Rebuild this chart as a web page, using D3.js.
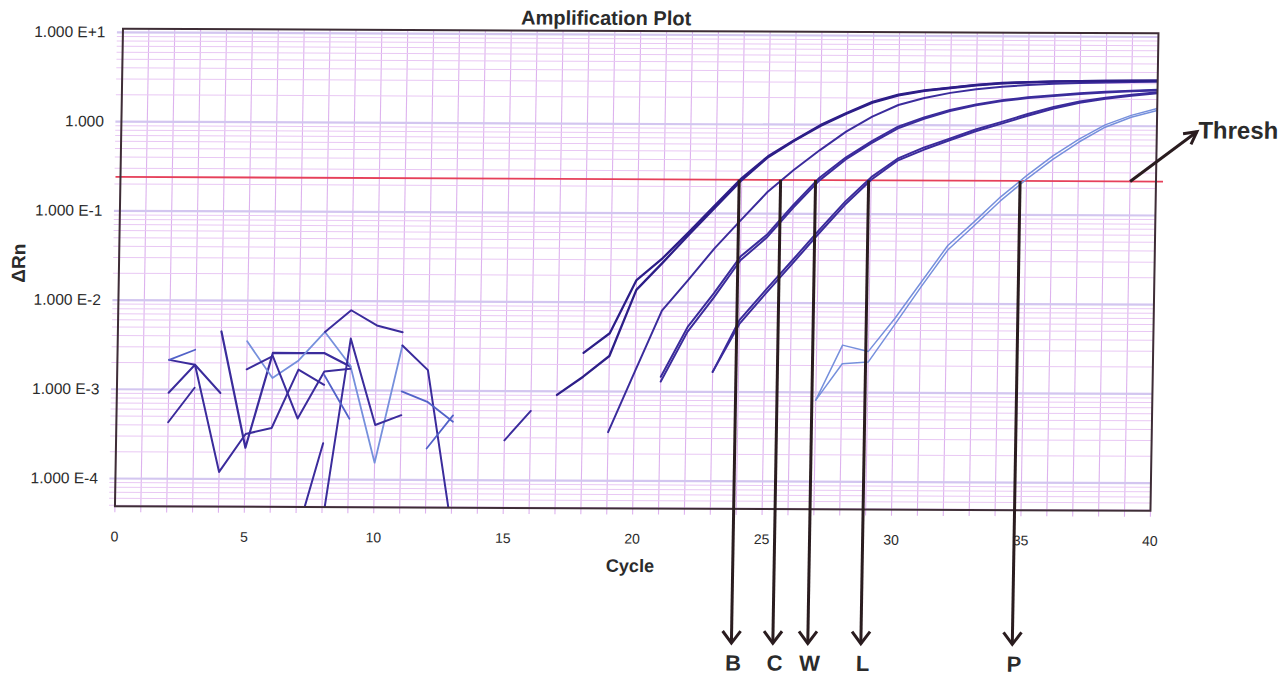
<!DOCTYPE html>
<html>
<head>
  <meta charset="utf-8">
  <script src="https://d3js.org/d3.v7.min.js"></script>
  <style>
    body { margin: 0; background: #fff; }
    text { font-family: "Liberation Sans", Arial, sans-serif; fill: #2b2b2b; }
  </style>
</head>
<body>
<svg id="chart"></svg>
<script>
  var w = 1287;
  var h = 677;

  // axis ticks
  var xTicks = [0, 5, 10, 15, 20, 25, 30, 35, 40];
  var yTicks = [1e-4, 1e-3, 1e-2, 1e-1, 1, 10];
  var yTickLabels = ["1.000 E-4", "1.000 E-3", "1.000 E-2", "1.000 E-1", "1.000", "1.000 E+1"];

  var threshold = 0.24;

  // Ct markers under the plot
  var ctNames = ["B", "C", "W", "L", "P"];
  var ctCycles = [23.9, 25.5, 26.85, 28.9, 34.75];

  // amplification curves (delta Rn per cycle, first value at the start cycle)
  var ampB1 = [2.7e-3, 4.5e-3, 1.78e-2, 3.15e-2, 6.2e-2, 0.125, 0.25, 0.44, 0.67, 0.99, 1.36, 1.82, 2.2, 2.45, 2.65, 2.85, 3.0, 3.08, 3.14, 3.18, 3.21, 3.23, 3.25];
  var ampB2 = [9.1e-4, 1.46e-3, 2.5e-3, 1.38e-2, 2.8e-2, 5.8e-2, 0.118, 0.238, 0.43, 0.66, 0.97, 1.33, 1.78, 2.15, 2.42, 2.62, 2.82, 2.97, 3.06, 3.12, 3.17, 3.2, 3.22, 3.24];
  var ampC = [3.5e-4, 1.7e-3, 8.1e-3, 1.8e-2, 4.1e-2, 8.5e-2, 0.175, 0.31, 0.52, 0.84, 1.24, 1.68, 2.02, 2.31, 2.55, 2.72, 2.86, 2.96, 3.03, 3.08, 3.12, 3.15];
  var ampW1 = [1.47e-3, 5.3e-3, 1.28e-2, 3.3e-2, 5.8e-2, 0.125, 0.255, 0.43, 0.66, 0.96, 1.22, 1.49, 1.72, 1.92, 2.08, 2.2, 2.32, 2.42, 2.5, 2.56];
  var ampW2 = [1.3e-3, 4.7e-3, 1.15e-2, 3.0e-2, 5.4e-2, 0.117, 0.238, 0.41, 0.63, 0.92, 1.18, 1.45, 1.68, 1.88, 2.04, 2.16, 2.28, 2.38, 2.46, 2.52];
  var ampL1 = [1.68e-3, 6.4e-3, 1.4e-2, 3.0e-2, 6.5e-2, 0.137, 0.26, 0.42, 0.56, 0.71, 0.9, 1.1, 1.35, 1.62, 1.88, 2.08, 2.25, 2.4];
  var ampL2 = [1.68e-3, 5.8e-3, 1.28e-2, 2.75e-2, 6.0e-2, 0.127, 0.243, 0.4, 0.53, 0.68, 0.86, 1.05, 1.29, 1.56, 1.82, 2.02, 2.19, 2.34];
  var ampP1 = [8.2e-4, 3.4e-3, 2.9e-3, 6.8e-3, 1.75e-2, 4.5e-2, 8.3e-2, 0.158, 0.275, 0.46, 0.71, 1.03, 1.32, 1.58];
  var ampP2 = [8.2e-4, 2.1e-3, 2.2e-3, 5.8e-3, 1.55e-2, 4.0e-2, 7.5e-2, 0.143, 0.252, 0.42, 0.66, 0.97, 1.26, 1.5];
  var ampTail = [2.8e-4, 6.0e-4];

  // baseline noise pieces
  var noise1 = [2.15e-3, 1.9e-3, 9.2e-4];
  var noise2 = [2.15e-3, 2.8e-3];
  var noise3 = [9.2e-4, 1.9e-3, 1.2e-4, 3.2e-4, 3.75e-4, 1.7e-3, 1.15e-3];
  var noise4 = [4.3e-4, 1.05e-3];
  var noise5 = [4.5e-3, 2.25e-4, 2.6e-3, 2.6e-3, 2.6e-3, 1.85e-3];
  var noise6 = [3.5e-3, 1.36e-3, 2.15e-3, 4.5e-3, 1.9e-3, 1.55e-4, 3.2e-3];
  var noise7 = [1.7e-3, 2.4e-3, 4.8e-4, 1.62e-3, 1.75e-3];
  var noise8 = [4.5e-3, 7.9e-3, 5.35e-3, 4.5e-3];
  var noise9 = [2.2e-5, 2.55e-4];
  var noise10 = [3e-5, 3.8e-3, 4.1e-4, 5.3e-4];
  var noise11 = [3.2e-3, 1.7e-3, 3e-5];
  var noise12 = [9.8e-4, 7.5e-4, 4.5e-4];
  var noise13 = [2.25e-4, 5.3e-4];
  var noise14 = [1.48e-3, 4.8e-4];

  var navy = "#2d1e88", dark = "#3b2c9c", mid = "#5262c8", light = "#7690dc";

  var series = [
    {start: 2, values: noise1, color: dark, width: 2},
    {start: 2, values: noise2, color: mid, width: 1.8},
    {start: 2, values: noise3, color: dark, width: 2},
    {start: 2, values: noise4, color: dark, width: 2},
    {start: 4, values: noise5, color: dark, width: 2.2},
    {start: 5, values: noise6, color: light, width: 1.8},
    {start: 5, values: noise7, color: dark, width: 2},
    {start: 8, values: noise8, color: dark, width: 2},
    {start: 7, values: noise9, color: dark, width: 2},
    {start: 8, values: noise10, color: dark, width: 2},
    {start: 11, values: noise11, color: dark, width: 2},
    {start: 11, values: noise12, color: mid, width: 1.8},
    {start: 12, values: noise13, color: mid, width: 1.8},
    {start: 8, values: noise14, color: mid, width: 1.8},
    {start: 15, values: ampTail, color: dark, width: 2},
    {start: 27, values: ampP1, color: light, width: 1.5},
    {start: 27, values: ampP2, color: light, width: 1.5},
    {start: 23, values: ampL1, color: dark, width: 2},
    {start: 23, values: ampL2, color: dark, width: 2},
    {start: 21, values: ampW1, color: dark, width: 2},
    {start: 21, values: ampW2, color: dark, width: 2},
    {start: 19, values: ampC, color: dark, width: 2},
    {start: 17, values: ampB2, color: navy, width: 2.3},
    {start: 18, values: ampB1, color: navy, width: 2.3}
  ];

  var svg = d3.select("#chart").attr("width", w).attr("height", h);

  var pLeft = 119, pRight = 1154.5, pTop = 31, pBottom = 508.5;
  var x = d3.scaleLinear().domain([0, 40]).range([pLeft, pRight]);
  var y = d3.scaleLog().domain([4.9e-5, 11]).range([pBottom, pTop]);

  // the scanned original is slightly skewed
  var g = svg.append("g").attr("transform", "matrix(1,0.0045,-0.0168,1,4.5,-2.87)");

  // grid
  var minor = [], decades = [];
  for (var k = -5; k <= 1; k++) {
    for (var m = 1; m <= 9; m++) {
      var v = m * Math.pow(10, k);
      if (v >= 4.9e-5 && v <= 11) {
        if (m == 1) decades.push(v); else minor.push(v);
      }
    }
  }
  g.append("g").selectAll("line").data(d3.range(0, 41)).enter().append("line")
    .attr("x1", function(d) {return x(d);}).attr("x2", function(d) {return x(d);})
    .attr("y1", pTop).attr("y2", pBottom + 6)
    .attr("stroke", "#ddb2ee").attr("stroke-width", 1.1);
  g.append("g").selectAll("line").data(minor).enter().append("line")
    .attr("x1", pLeft - 6).attr("x2", pRight)
    .attr("y1", function(d) {return y(d);}).attr("y2", function(d) {return y(d);})
    .attr("stroke", "#e9c8f4").attr("stroke-width", 1);
  g.append("g").selectAll("line").data(decades).enter().append("line")
    .attr("x1", pLeft - 6).attr("x2", pRight)
    .attr("y1", function(d) {return y(d);}).attr("y2", function(d) {return y(d);})
    .attr("stroke", "#d3c6f0").attr("stroke-width", 2.2);

  // threshold
  g.append("line")
    .attr("x1", pLeft - 5).attr("x2", pRight + 7)
    .attr("y1", y(threshold)).attr("y2", y(threshold))
    .attr("stroke", "#e6405a").attr("stroke-width", 1.8);

  // curves
  svg.append("defs").append("clipPath").attr("id", "plotclip")
    .append("rect").attr("x", pLeft).attr("y", pTop)
    .attr("width", pRight - pLeft).attr("height", pBottom - pTop);

  var line = d3.line()
    .defined(function(d) {return d.v != null;})
    .x(function(d) {return x(d.c);})
    .y(function(d) {return y(d.v);});

  var curves = g.append("g").attr("clip-path", "url(#plotclip)");
  series.forEach(function(s) {
    var pts = s.values.map(function(v, i) {return {c: s.start + i, v: v};});
    curves.append("path").datum(pts)
      .attr("d", line)
      .attr("fill", "none")
      .attr("stroke", s.color)
      .attr("stroke-width", s.width)
      .attr("stroke-linejoin", "round")
      .attr("stroke-linecap", "round");
  });

  // frame
  g.append("rect")
    .attr("x", pLeft).attr("y", pTop)
    .attr("width", pRight - pLeft).attr("height", pBottom - pTop)
    .attr("fill", "none").attr("stroke", "#3e2d36").attr("stroke-width", 2);

  // tick labels
  g.append("g").selectAll("text").data(yTicks).enter().append("text")
    .attr("x", pLeft - 17.5).attr("y", function(d) {return y(d) + 5;})
    .attr("text-anchor", "end").attr("font-size", "15.5px")
    .text(function(d, i) {return yTickLabels[i];});
  g.append("g").selectAll("text").data(xTicks).enter().append("text")
    .attr("x", function(d) {return x(d);}).attr("y", 543.5)
    .attr("text-anchor", "middle").attr("font-size", "14px")
    .text(function(d) {return d;});

  // titles
  g.append("text").attr("x", 602).attr("y", 25)
    .attr("text-anchor", "middle").attr("font-size", "20px").attr("font-weight", "700")
    .text("Amplification Plot");
  g.append("text").attr("x", 635).attr("y", 572)
    .attr("text-anchor", "middle").attr("font-size", "18px").attr("font-weight", "700")
    .text("Cycle");
  g.append("text").attr("transform", "translate(25,266) rotate(-90)")
    .attr("text-anchor", "middle").attr("font-size", "19px").attr("font-weight", "700")
    .text("\u0394Rn");

  // Ct arrows
  var arrowColor = "#2a1c1f";
  var arrowEnd = 642.6;
  ctCycles.forEach(function(c, i) {
    var ax = x(c);
    g.append("line")
      .attr("x1", ax).attr("x2", ax)
      .attr("y1", y(threshold)).attr("y2", arrowEnd)
      .attr("stroke", arrowColor).attr("stroke-width", 3);
    g.append("polyline")
      .attr("points", (ax - 9) + "," + (arrowEnd - 12) + " " + ax + "," + arrowEnd + " " + (ax + 9) + "," + (arrowEnd - 12))
      .attr("fill", "none").attr("stroke", arrowColor).attr("stroke-width", 3)
      .attr("stroke-linejoin", "miter");
    g.append("text")
      .attr("x", ax + 2).attr("y", 670)
      .attr("text-anchor", "middle").attr("font-size", "22px").attr("font-weight", "700")
      .attr("fill", "#1e1416")
      .text(ctNames[i]);
  });

  // threshold callout
  var sx = x(39.0), sy = y(threshold);
  var ex = sx + 66, ey = sy - 50;
  var ang = Math.atan2(ey - sy, ex - sx);
  var wing = 14;
  g.append("line")
    .attr("x1", sx).attr("y1", sy).attr("x2", ex).attr("y2", ey)
    .attr("stroke", arrowColor).attr("stroke-width", 3);
  g.append("polyline")
    .attr("points",
      (ex - wing * Math.cos(ang - 0.5)) + "," + (ey - wing * Math.sin(ang - 0.5)) + " " +
      ex + "," + ey + " " +
      (ex - wing * Math.cos(ang + 0.5)) + "," + (ey - wing * Math.sin(ang + 0.5)))
    .attr("fill", "none").attr("stroke", arrowColor).attr("stroke-width", 3);
  g.append("text")
    .attr("x", 1196).attr("y", 136)
    .attr("font-size", "24px").attr("font-weight", "700").attr("fill", "#1e1416")
    .text("Thresh");
</script>
</body>
</html>
